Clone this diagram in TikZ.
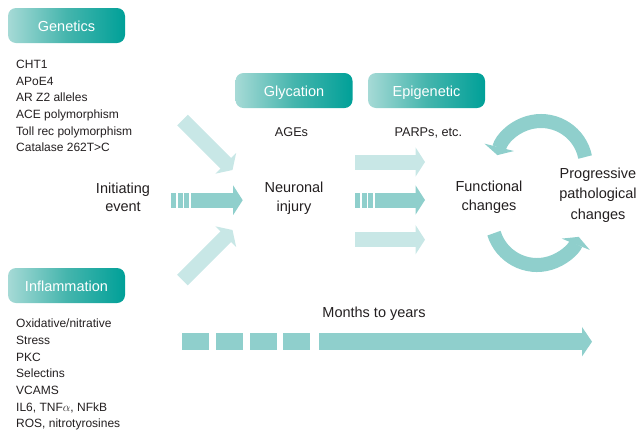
\documentclass[tikz,border=0pt]{standalone}
\usepackage{fontspec}
\setmainfont{Liberation Sans}
\usetikzlibrary{arrows.meta}
\definecolor{lt}{HTML}{C8E7E6}
\definecolor{md}{HTML}{8FCFCC}
\definecolor{bxl}{HTML}{A6DAD6}
\definecolor{bxm}{HTML}{45B5AD}
\definecolor{bxd}{HTML}{00A098}
\definecolor{tx}{HTML}{231F20}
\begin{document}
\begin{tikzpicture}[x=1pt,y=-1pt,
  hbox/.style={rounded corners=8pt, left color=bxl, right color=bxd, middle color=bxm, minimum width=117pt,
    minimum height=35pt, text=white, font=\fontsize{14.5}{17}\selectfont, inner sep=0pt,
    text height=12pt, text depth=0pt},
  lbl/.style={text=tx, font=\fontsize{14.5}{19}\selectfont, align=center, inner sep=0pt, anchor=base},
  small/.style={text=tx, font=\fontsize{12.7}{15}\selectfont, inner sep=0pt, anchor=base},
  lst/.style={text=tx, font=\fontsize{12}{16.67}\selectfont, align=left, inner sep=0pt, anchor=base west},
  fat/.style={line width=15pt, -{Triangle[width=29pt,length=9.5pt]}},
  ring/.style={line width=14pt, md, -{Triangle[width=30pt,length=8pt]}},
]
\useasboundingbox (0,0) rectangle (639,432);

% header boxes
\node[hbox] (gen) at (66.5,25.5) {Genetics};
\node[hbox] (inf) at (66.5,285.5) {Inflammation};
\node[hbox] (gly) at (294,90.5) {Glycation};
\node[hbox] (epi) at (426.5,90.5) {Epigenetic};

% lists (base anchor = baseline of last line)
\node[lst] (glist) at (16,151.7) {CHT1\\APoE4\\AR Z2 alleles\\ACE polymorphism\\Toll rec polymorphism\\Catalase 262T>C};
\node[lst] (ilist) at (16,427.7) {Oxidative/nitrative\\Stress\\PKC\\Selectins\\VCAMS\\IL6, TNF$\alpha$, NFkB\\ROS, nitrotyrosines};

% labels
\node[small] (ages) at (291.5,136) {AGEs};
\node[small] (parps) at (428.3,136) {PARPs, etc.};
\node[lbl, font=\fontsize{14.5}{18}\selectfont] (init) at (123,211.7) {Initiating\\event};
\node[lbl] (neur) at (294,211.7) {Neuronal\\injury};
\node[lbl] (func) at (489,210.5) {Functional\\changes};
\node[lbl, font=\fontsize{14.5}{20.5}\selectfont] (prog) at (598,219.3) {Progressive\\pathological\\changes};
\node[lbl] (months) at (374,317.3) {Months to years};

% arrow end points
\coordinate (d1s) at (182.5,120);  \coordinate (d1e) at (232.5,170);
\coordinate (d2s) at (182.5,280);  \coordinate (d2e) at (232.5,230);
\coordinate (m1s) at (191,200.2);  \coordinate (m1e) at (242.7,200.2);
\coordinate (r1s) at (355,162);    \coordinate (r1e) at (425,162);
\coordinate (r2s) at (375,200);    \coordinate (r2e) at (425,200);
\coordinate (r3s) at (355,239.7);  \coordinate (r3e) at (425,239.7);
\coordinate (ts) at (319,341.7);   \coordinate (te) at (592,341.7);
\coordinate (ctop) at (541,166);
\coordinate (cbot) at (537,220);

% left fan
\draw[fat, lt] (d1s) -- (d1e);
\draw[fat, lt] (d2s) -- (d2e);
\fill[md] (171,192.7) rectangle (176,207.7);
\fill[md] (177.7,192.7) rectangle (182.7,207.7);
\fill[md] (184.3,192.7) rectangle (189.3,207.7);
\draw[fat, md] (m1s) -- (m1e);

% right arrows
\draw[fat, lt] (r1s) -- (r1e);
\fill[md] (355,192.5) rectangle (360,207.5);
\fill[md] (361.7,192.5) rectangle (366.7,207.5);
\fill[md] (368.3,192.5) rectangle (373.3,207.5);
\draw[fat, md] (r2s) -- (r2e);
\draw[fat, lt] (r3s) -- (r3e);

% cycle
\draw[ring] ([shift={(-11.5:45)}]ctop) arc[start angle=-11.5, end angle=-166, radius=45];
\draw[ring] ([shift={(163:45)}]cbot) arc[start angle=163, end angle=22, radius=45];

% timeline
\fill[md] (182,333.3) rectangle (209,350);
\fill[md] (216,333.3) rectangle (243,350);
\fill[md] (250,333.3) rectangle (277,350);
\fill[md] (283,333.3) rectangle (310,350);
\draw[md, line width=16.7pt, -{Triangle[width=29pt,length=10pt]}] (ts) -- (te);
\end{tikzpicture}
\end{document}
